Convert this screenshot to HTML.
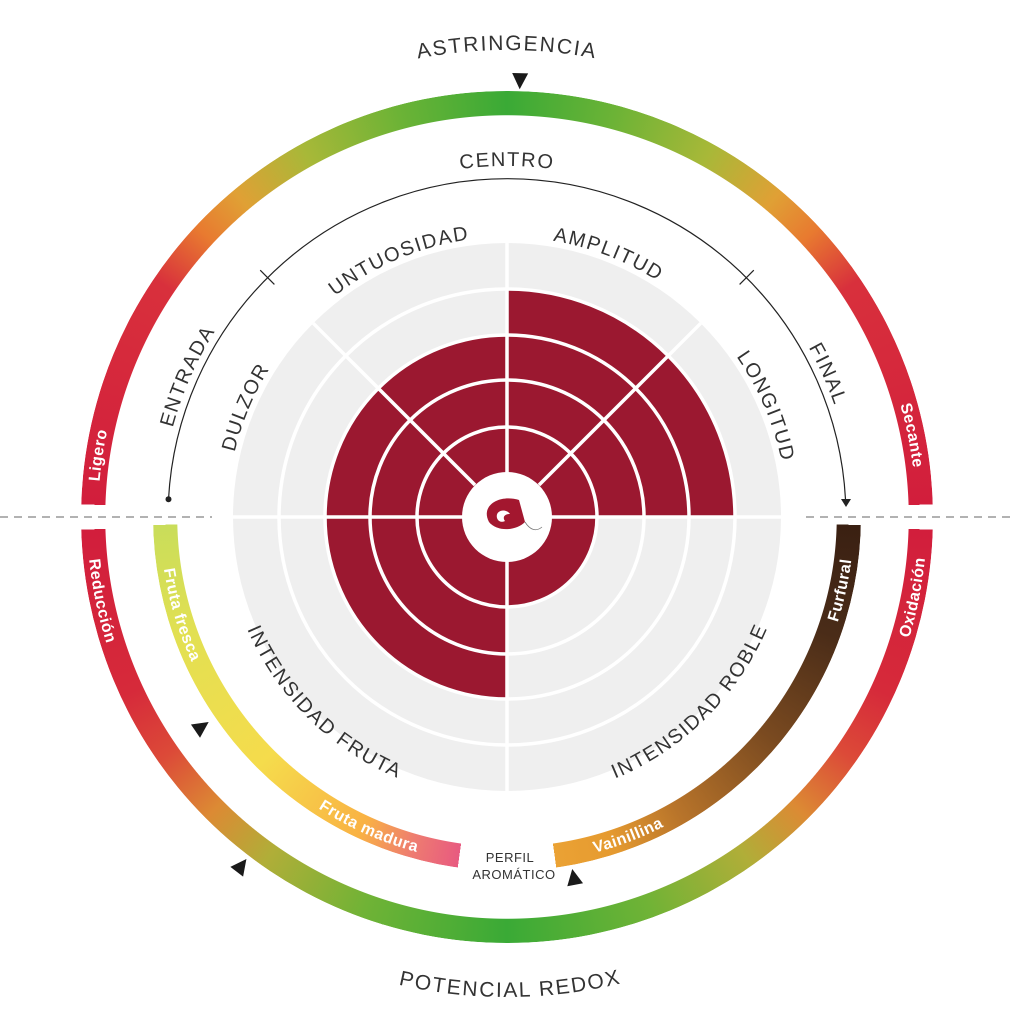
<!DOCTYPE html>
<html><head><meta charset="utf-8">
<style>
html,body{margin:0;padding:0;background:#fff;}
#wrap{position:relative;width:1014px;height:1024px;overflow:hidden;background:#fff;}
.ring{position:absolute;border-radius:50%;}
#outer{left:81px;top:91px;width:852px;height:852px;
background:conic-gradient(from 0deg,#3aaa36 0deg,#6cb336 15deg,#a8b838 29deg,#e0a035 40deg,#e87a30 47deg,#d8303c 56deg,#d21e3c 88.3deg,transparent 88.3deg,transparent 91.7deg,#d21e3c 91.7deg,#d62a3a 115deg,#dc4a38 125deg,#dc8a34 135deg,#b0ae38 145deg,#70b336 160deg,#3aaa36 180deg,#70b336 200deg,#b0ae38 215deg,#dc8a34 225deg,#dc4a38 235deg,#d62a3a 245deg,#d21e3c 268.3deg,transparent 268.3deg,transparent 271.7deg,#d21e3c 271.7deg,#d8303c 304deg,#e87a30 313deg,#e0a035 320deg,#a8b838 331deg,#6cb336 345deg,#3aaa36 360deg);
-webkit-mask-image:radial-gradient(circle at center,transparent 401.5px,#000 402px,#000 426px,transparent 426.5px);
mask-image:radial-gradient(circle at center,transparent 401.5px,#000 402px,#000 426px,transparent 426.5px);}
#inner{left:153px;top:163px;width:708px;height:708px;
background:conic-gradient(from 0deg,transparent 0deg,transparent 91.3deg,#3a2012 91.3deg,#4a2c18 110deg,#7a4a20 130deg,#b8742a 150deg,#e59a30 162deg,#eba234 172deg,transparent 172deg,transparent 188deg,#e85a80 188deg,#ee7c70 196deg,#f9b244 205deg,#f5dc4c 225deg,#e2e052 250deg,#c9dd5a 268.7deg,transparent 268.7deg);
-webkit-mask-image:radial-gradient(circle at center,transparent 329.5px,#000 330px,#000 354px,transparent 354.5px);
mask-image:radial-gradient(circle at center,transparent 329.5px,#000 330px,#000 354px,transparent 354.5px);}
svg{position:absolute;left:0;top:0;}
.lbl{font-family:"Liberation Sans",sans-serif;font-size:20px;fill:#333;letter-spacing:1.6px;}
.big{font-size:21px;letter-spacing:1.8px;}
.wl{font-family:"Liberation Sans",sans-serif;font-size:16px;font-weight:bold;fill:#fff;letter-spacing:0.5px;}
</style></head>
<body><div id="wrap">
<div class="ring" id="outer"></div>
<div class="ring" id="inner"></div>
<svg width="1014" height="1024" viewBox="0 0 1014 1024">
<defs>
<path id="cw467" d="M40,517 A467,467 0 1 1 974,517 A467,467 0 1 1 40,517"/>
<path id="cw351" d="M156,517 A351,351 0 1 1 858,517 A351,351 0 1 1 156,517"/>
<path id="cw346" d="M161,517 A346,346 0 1 1 853,517 A346,346 0 1 1 161,517"/>
<path id="cw280" d="M227,517 A280,280 0 1 1 787,517 A280,280 0 1 1 227,517"/>
<path id="cw409" d="M98,517 A409,409 0 1 1 916,517 A409,409 0 1 1 98,517"/>
<path id="ccw283" d="M224,517 A283,283 0 1 0 790,517 A283,283 0 1 0 224,517"/>
<path id="ccw480" d="M27,517 A480,480 0 1 0 987,517 A480,480 0 1 0 27,517"/>
<path id="ccw420" d="M87,517 A420,420 0 1 0 927,517 A420,420 0 1 0 87,517"/>
<path id="ccw347" d="M160,517 A347,347 0 1 0 854,517 A347,347 0 1 0 160,517"/>
</defs>
<line x1="0" y1="517" x2="212" y2="517" stroke="#999" stroke-width="1.5" stroke-dasharray="8,6"/>
<line x1="806" y1="517" x2="1014" y2="517" stroke="#999" stroke-width="1.5" stroke-dasharray="8,6"/>
<circle cx="507" cy="517" r="274" fill="#efefef"/>
<g fill="#9b1830">
<path d="M507,517 L325,517 A182,182 0 0 1 507,335 Z"/>
<path d="M507,517 L507,289 A228,228 0 0 1 735,517 Z"/>
<path d="M507,517 L597,517 A90,90 0 0 1 507,607 Z"/>
<path d="M507,517 L507,699 A182,182 0 0 1 325,517 Z"/>
</g>
<g stroke="#fff" stroke-width="3.5" fill="none">
<circle cx="507" cy="517" r="90"/>
<circle cx="507" cy="517" r="137"/>
<circle cx="507" cy="517" r="182"/>
<circle cx="507" cy="517" r="228"/>
<line x1="231" y1="517" x2="783" y2="517"/>
<line x1="507" y1="241" x2="507" y2="793"/>
<line x1="475" y1="485" x2="313.3" y2="323.3"/>
<line x1="539" y1="485" x2="700.7" y2="323.3"/>
</g>
<circle cx="507" cy="517" r="45" fill="#fff"/>
<path d="M489,522 C480,505 500,494 519,500 L525,522 C516,531 497,532 489,522 Z" fill="#a3172f"/>
<path d="M497,518 C495,510 506,508 510,514 C505,514 502,517 505,521 C501,523 498,521 497,518 Z" fill="#fff"/>
<path d="M525,522 C530,530 536,532 542,527" stroke="#777" stroke-width="0.8" fill="none"/>
<path d="M168.5,499.3 A339,339 0 0 1 845.5,499.3" stroke="#222" stroke-width="1.2" fill="none"/>
<circle cx="168.5" cy="499.3" r="3" fill="#222"/>
<polygon points="841,499 851,499 846,507" fill="#222"/>
<line x1="274.4" y1="284.4" x2="260.2" y2="270.2" stroke="#222" stroke-width="1.2"/>
<line x1="739.6" y1="284.4" x2="753.8" y2="270.2" stroke="#222" stroke-width="1.2"/>
<g fill="#1a1a1a" transform="translate(507,517)">
<polygon transform="rotate(271.7)" points="428,0 444,-8 444,8"/>
<polygon transform="rotate(145.5)" points="362,0 378,-8 378,8"/>
<polygon transform="rotate(127.3)" points="430,0 446,-8 446,8"/>
<polygon transform="rotate(79.5)" points="358,0 374,-8 374,8"/>
</g>
<text class="lbl big" text-anchor="middle"><textPath href="#cw467" startOffset="25%">ASTRINGENCIA</textPath></text>
<text class="lbl" text-anchor="middle"><textPath href="#cw351" startOffset="25%">CENTRO</textPath></text>
<text class="lbl" text-anchor="middle"><textPath href="#cw346" startOffset="6.61%">ENTRADA</textPath></text>
<text class="lbl" text-anchor="middle"><textPath href="#cw346" startOffset="43.33%">FINAL</textPath></text>
<text class="lbl" text-anchor="middle"><textPath href="#cw280" startOffset="18.67%">UNTUOSIDAD</textPath></text>
<text class="lbl" text-anchor="middle"><textPath href="#cw280" startOffset="30.86%">AMPLITUD</textPath></text>
<text class="lbl" text-anchor="middle"><textPath href="#cw280" startOffset="6.33%">DULZOR</textPath></text>
<text class="lbl" text-anchor="middle"><textPath href="#cw280" startOffset="43.58%">LONGITUD</textPath></text>
<text class="lbl" text-anchor="middle"><textPath href="#ccw283" startOffset="12.61%">INTENSIDAD FRUTA</textPath></text>
<text class="lbl" text-anchor="middle"><textPath href="#ccw283" startOffset="37.42%">INTENSIDAD ROBLE</textPath></text>
<text class="lbl big" text-anchor="middle"><textPath href="#ccw480" startOffset="25.11%">POTENCIAL REDOX</textPath></text>
<text class="wl" text-anchor="middle"><textPath href="#cw409" startOffset="2.39%">Ligero</textPath></text>
<text class="wl" text-anchor="middle"><textPath href="#cw409" startOffset="46.83%">Secante</textPath></text>
<text class="wl" text-anchor="middle"><textPath href="#ccw420" startOffset="3.25%">Reducción</textPath></text>
<text class="wl" text-anchor="middle"><textPath href="#ccw420" startOffset="46.89%">Oxidación</textPath></text>
<text class="wl" text-anchor="middle"><textPath href="#ccw347" startOffset="4.64%">Fruta fresca</textPath></text>
<text class="wl" text-anchor="middle"><textPath href="#ccw347" startOffset="18.33%">Fruta madura</textPath></text>
<text class="wl" text-anchor="middle"><textPath href="#ccw347" startOffset="46.56%">Furfural</textPath></text>
<text class="wl" text-anchor="middle"><textPath href="#ccw347" startOffset="30.78%">Vainillina</textPath></text>
<text x="510" y="862" text-anchor="middle" font-family="Liberation Sans, sans-serif" font-size="13" fill="#333" letter-spacing="0.5">PERFIL</text>
<text x="514" y="879" text-anchor="middle" font-family="Liberation Sans, sans-serif" font-size="13" fill="#333" letter-spacing="0.5">AROMÁTICO</text>
</svg>
</div></body></html>
